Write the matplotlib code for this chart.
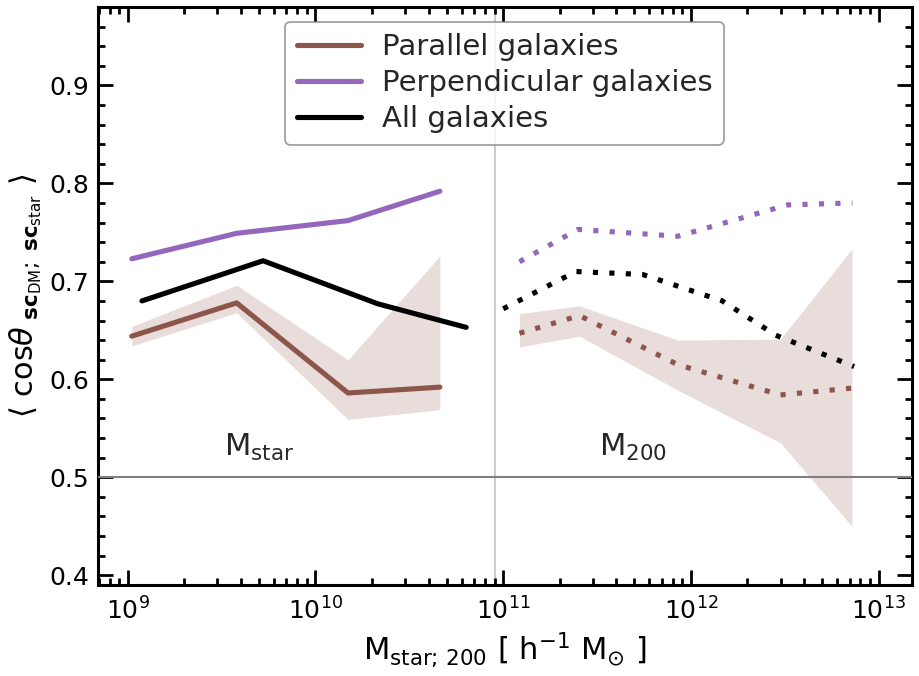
import matplotlib
matplotlib.use('Agg')
import matplotlib.pyplot as plt
from matplotlib.ticker import AutoMinorLocator, LogLocator, NullFormatter

# ---- data ----
# stellar-mass bins (solid lines)
par_x = [1.05e9, 3.8e9, 1.49e10, 4.6e10]
par_y = [0.644, 0.678, 0.586, 0.592]
par_lo = [0.634, 0.668, 0.559, 0.569]
par_hi = [0.654, 0.696, 0.620, 0.726]

perp_x = [1.05e9, 3.8e9, 1.49e10, 4.6e10]
perp_y = [0.723, 0.749, 0.762, 0.792]

all_x = [1.19e9, 5.26e9, 2.15e10, 6.35e10]
all_y = [0.680, 0.721, 0.677, 0.653]

# halo-mass bins (dotted lines)
par200_x = [1.22e11, 2.55e11, 8.5e11, 3.0e12, 7.2e12]
par200_y = [0.647, 0.665, 0.615, 0.584, 0.591]
par200_lo = [0.633, 0.644, 0.589, 0.535, 0.450]
par200_hi = [0.667, 0.675, 0.640, 0.641, 0.733]

perp200_x = [1.22e11, 2.5e11, 8.5e11, 3.27e12, 7.25e12]
perp200_y = [0.720, 0.753, 0.746, 0.778, 0.780]

all200_x = [1.0e11, 2.44e11, 5.53e11, 1.47e12, 2.83e12, 7.4e12]
all200_y = [0.672, 0.710, 0.707, 0.680, 0.645, 0.613]

c_par = '#8c564b'
c_perp = '#9467bd'
c_all = 'black'

fig = plt.figure(figsize=(9.2, 6.76), dpi=100)
ax = fig.add_axes([0.106, 0.1346, 0.885, 0.855])

# reference lines
ax.axhline(0.5, color='0.5', lw=1.5, zorder=3)
ax.axvline(9e10, color='0.8', lw=1.5, zorder=1)

# bands
ax.fill_between(par_x, par_lo, par_hi, color=c_par, alpha=0.2, lw=0, zorder=2)
ax.fill_between(par200_x, par200_lo, par200_hi, color=c_par, alpha=0.2, lw=0, zorder=2)

lw = 3.7
ax.plot(par_x, par_y, color=c_par, lw=lw, solid_capstyle='round', label='Parallel galaxies', zorder=4)
ax.plot(perp_x, perp_y, color=c_perp, lw=lw, solid_capstyle='round', label='Perpendicular galaxies', zorder=4)
ax.plot(all_x, all_y, color=c_all, lw=lw, solid_capstyle='round', label='All galaxies', zorder=4)

ax.plot(par200_x, par200_y, color=c_par, lw=lw, dashes=(1, 2.2), zorder=4)
ax.plot(perp200_x, perp200_y, color=c_perp, lw=lw, dashes=(1, 2.2), zorder=4)
ax.plot(all200_x, all200_y, color=c_all, lw=lw, dashes=(1, 2.2), zorder=4)

ax.text(5e9, 0.515, r'M$_{\rm star}$', fontsize=22, color='0.15', ha='center', va='bottom')
ax.text(4.9e11, 0.515, r'M$_{200}$', fontsize=22, color='0.15', ha='center', va='bottom')

ax.set_xscale('log')
ax.set_xlim(6.9e8, 1.5e13)
ax.set_ylim(0.39, 0.98)
ax.set_yticks([0.4, 0.5, 0.6, 0.7, 0.8, 0.9])
ax.yaxis.set_minor_locator(AutoMinorLocator(5))
ax.xaxis.set_major_locator(LogLocator(base=10, numticks=20))
ax.xaxis.set_minor_locator(LogLocator(base=10, subs=range(2, 10), numticks=20))
ax.xaxis.set_minor_formatter(NullFormatter())

ax.tick_params(which='both', direction='in', top=True, right=True, labelsize=18, colors='black')
ax.tick_params(which='major', length=11, width=2)
ax.tick_params(which='minor', length=5, width=2)
ax.tick_params(axis='x', which='major', pad=9)
ax.tick_params(axis='y', which='major', pad=6)
for s in ax.spines.values():
    s.set_linewidth(2.2)

ax.set_xlabel(r'M$_{\rm star;\,200}$ [ h$^{-1}$ M$_{\odot}$ ]', fontsize=22, labelpad=4)
ax.set_ylabel(r'$\langle$ cos$\theta_{\ \mathbf{sc}_{\rm DM};\ \mathbf{sc}_{\rm star}}$ $\rangle$', fontsize=22)

leg = ax.legend(loc='upper center', fontsize=21, handlelength=2.2, handletextpad=0.7,
                labelspacing=0.27, frameon=True, fancybox=True, borderaxespad=0.5)
leg.get_frame().set_edgecolor('0.5')
leg.get_frame().set_linewidth(1.2)
for t in leg.get_texts():
    t.set_color('0.15')

fig.savefig('out.png', dpi=100)
